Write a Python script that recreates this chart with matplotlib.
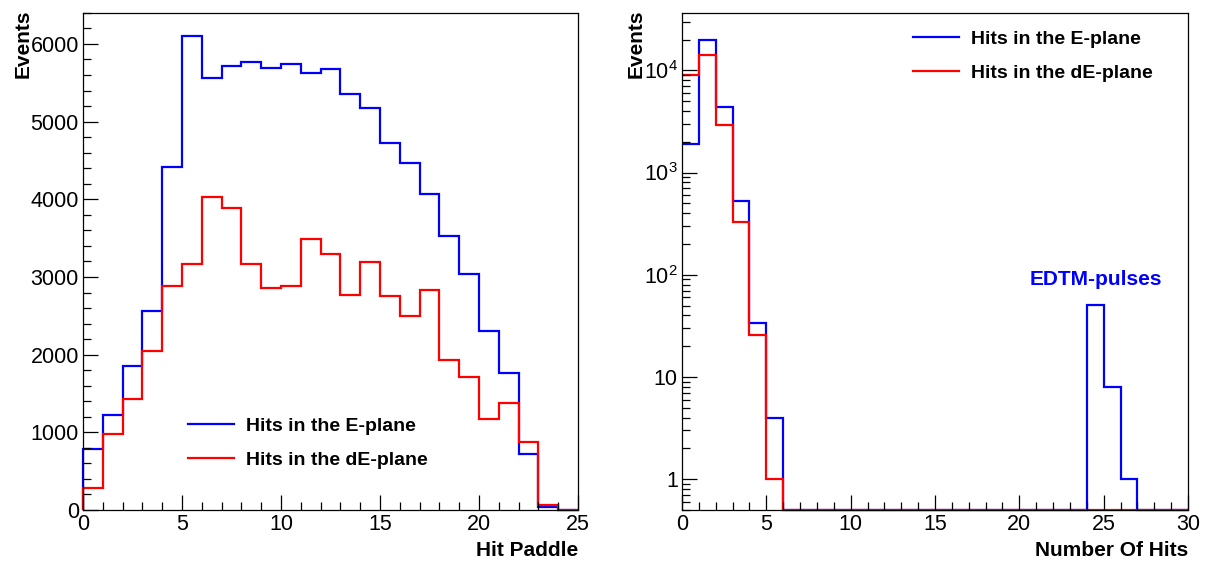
import numpy as np
import matplotlib
matplotlib.use("Agg")
import matplotlib.pyplot as plt
from matplotlib.ticker import MultipleLocator, FixedLocator, FuncFormatter, LogLocator, NullFormatter

plt.rcParams['font.family'] = ['Liberation Sans', 'DejaVu Sans']
plt.rcParams['mathtext.default'] = 'regular'

# hit paddle histograms (25 bins, 0..25)
paddle_E = [790, 1220, 1850, 2560, 4410, 6100, 5565, 5720, 5770, 5685, 5740, 5630,
            5680, 5355, 5180, 4730, 4465, 4070, 3530, 3040, 2305, 1770, 715, 36, 0]
paddle_dE = [282, 977, 1426, 2042, 2884, 3171, 4028, 3884, 3162, 2861, 2884, 3491,
             3301, 2773, 3194, 2755, 2500, 2833, 1926, 1713, 1167, 1375, 870, 62, 5]

# number of hits histograms (30 bins, 0..30)
nhits_E = [1900, 19600, 4330, 530, 34, 4, 0, 0, 0, 0, 0, 0, 0, 0, 0,
           0, 0, 0, 0, 0, 0, 0, 0, 0, 51, 8, 1, 0, 0, 0]
nhits_dE = [9000, 14200, 2940, 330, 26, 1, 0, 0, 0, 0, 0, 0, 0, 0, 0,
            0, 0, 0, 0, 0, 0, 0, 0, 0, 0, 0, 0, 0, 0, 0]

labels = ['Hits in the E-plane', 'Hits in the dE-plane']
BLUE = '#0000ff'
RED = '#ff0000'

fig = plt.figure(figsize=(12.06, 5.65), dpi=100)
ax1 = fig.add_axes([0.0688, 0.0973, 0.4104, 0.880])
ax2 = fig.add_axes([0.5655, 0.0973, 0.4196, 0.880])

lw = 1.6
tick_fs = 15.5
lab_fs = 15
leg_kw = dict(frameon=False, prop={'weight': 'bold', 'size': 14}, handlelength=2.4,
              handletextpad=0.6, labelspacing=0.85)


def style_axis(ax):
    for s in ax.spines.values():
        s.set_linewidth(0.9)
    ax.tick_params(which='both', direction='in', top=False, right=False,
                   labelsize=tick_fs, pad=3, width=0.9)
    ax.tick_params(which='major', length=11)
    ax.tick_params(which='minor', length=5.5)


# left panel
edges1 = np.arange(len(paddle_E) + 1)
ax1.stairs(paddle_E, edges1, color=BLUE, lw=lw, label=labels[0], clip_on=False)
ax1.stairs(paddle_dE, edges1, color=RED, lw=lw, label=labels[1], clip_on=False)
ax1.set_xlim(0, 25)
ax1.set_ylim(0, 6400)
ax1.xaxis.set_major_locator(MultipleLocator(5))
ax1.xaxis.set_minor_locator(MultipleLocator(1))
ax1.yaxis.set_major_locator(MultipleLocator(1000))
ax1.yaxis.set_minor_locator(MultipleLocator(200))
style_axis(ax1)
ax1.set_xlabel('Hit Paddle', fontsize=lab_fs, fontweight='bold', loc='right')
ax1.xaxis.set_label_coords(1.0, -0.062)
ax1.set_ylabel('Events', fontsize=lab_fs, fontweight='bold', loc='top')
ax1.yaxis.set_label_coords(-0.102, 1.006)
ax1.legend(loc='center left', bbox_to_anchor=(0.176, 0.135), **leg_kw)

# right panel
edges2 = np.arange(len(nhits_E) + 1)
ymin = 0.5
ax2.stairs(np.clip(nhits_E, ymin, None), edges2, color=BLUE, lw=lw,
           baseline=None, label=labels[0], clip_on=False)
ax2.stairs(np.clip(nhits_dE, ymin, None), edges2, color=RED, lw=lw,
           baseline=None, label=labels[1], clip_on=False)
ax2.set_yscale('log')
ax2.set_xlim(0, 30)
ax2.set_ylim(ymin, 3.65e4)
ax2.xaxis.set_major_locator(MultipleLocator(5))
ax2.xaxis.set_minor_locator(MultipleLocator(1))
ax2.yaxis.set_major_locator(FixedLocator([1, 10, 100, 1000, 10000]))
ax2.yaxis.set_minor_locator(LogLocator(base=10, subs=np.arange(2, 10)))
ax2.yaxis.set_minor_formatter(NullFormatter())


def log_fmt(v, pos):
    if v < 1.5:
        return '1'
    if v < 15:
        return '10'
    return r'$10^{%d}$' % int(round(np.log10(v)))


ax2.yaxis.set_major_formatter(FuncFormatter(log_fmt))
style_axis(ax2)
ax2.set_xlabel('Number Of Hits', fontsize=lab_fs, fontweight='bold', loc='right')
ax2.xaxis.set_label_coords(1.0, -0.062)
ax2.set_ylabel('Events', fontsize=lab_fs, fontweight='bold', loc='top')
ax2.yaxis.set_label_coords(-0.072, 1.006)
ax2.legend(loc='center left', bbox_to_anchor=(0.421, 0.913), **leg_kw)
ax2.text(0.686, 0.464, 'EDTM-pulses', transform=ax2.transAxes, color=BLUE,
         fontsize=15, fontweight='bold', ha='left', va='center')

fig.savefig('out.png', dpi=100)
